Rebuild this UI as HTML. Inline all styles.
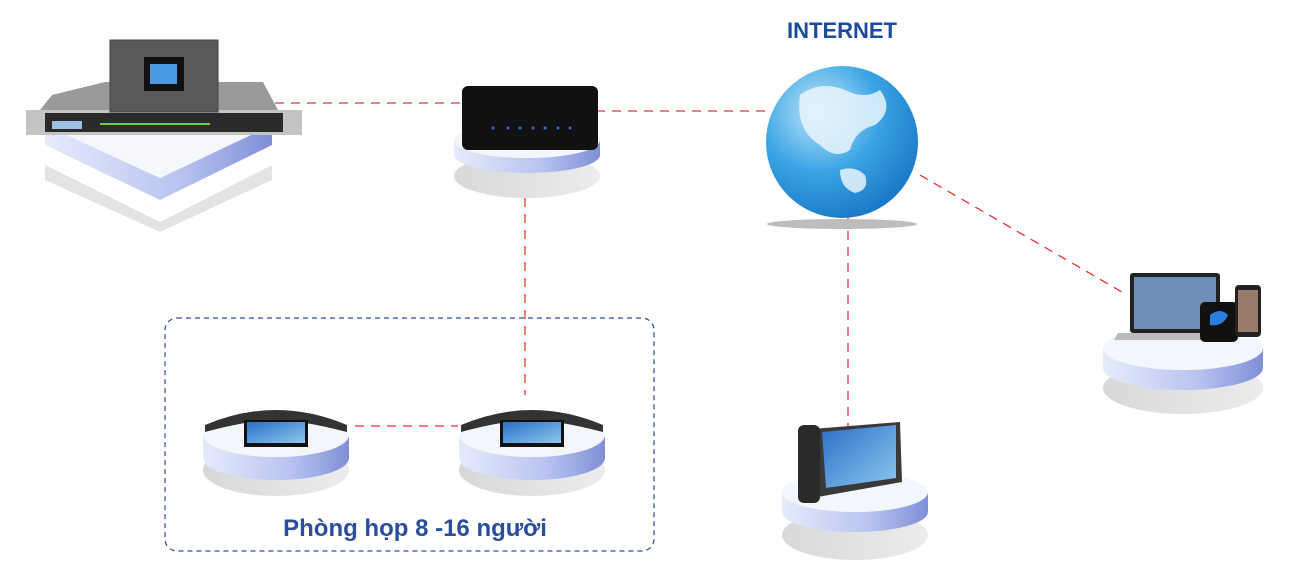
<!DOCTYPE html>
<html><head><meta charset="utf-8"><style>
html,body{margin:0;padding:0;background:#fff;width:1291px;height:575px;overflow:hidden}
svg{display:block}
</style></head><body>
<svg width="1291" height="575" viewBox="0 0 1291 575" xmlns="http://www.w3.org/2000/svg">
<defs>
<linearGradient id="band" x1="0" x2="1"><stop offset="0" stop-color="#e6ebfb"/><stop offset="0.6" stop-color="#b8c3f0"/><stop offset="1" stop-color="#7f8fd8"/></linearGradient>
<linearGradient id="shad" x1="0" x2="1"><stop offset="0" stop-color="#d8d8d8"/><stop offset="1" stop-color="#ececec"/></linearGradient>
<radialGradient id="globe" cx="0.35" cy="0.3" r="0.8"><stop offset="0" stop-color="#bfe6fb"/><stop offset="0.5" stop-color="#3aa4e4"/><stop offset="1" stop-color="#1571c2"/></radialGradient>
<linearGradient id="scr" x1="0" x2="1" y1="0" y2="1"><stop offset="0" stop-color="#2c6fc7"/><stop offset="1" stop-color="#8cc8ef"/></linearGradient>
</defs>

<g stroke="#e0343a" stroke-width="1.3" stroke-dasharray="9,7" fill="none">
<line x1="275" y1="103" x2="462" y2="103"/>
<line x1="596" y1="111" x2="768" y2="111"/>
<line x1="525" y1="198" x2="525" y2="395"/>
<line x1="355" y1="426" x2="458" y2="426"/>
<line x1="848" y1="215" x2="848" y2="430"/>
<line x1="920" y1="175" x2="1122" y2="292"/>
</g>
<rect x="165" y="318" width="489" height="233" rx="12" fill="none" stroke="#2c4e9a" stroke-width="1.2" stroke-dasharray="5,4"/>

<path d="M45 165 L160 222 L272 165 L272 180 L160 232 L45 180 Z" fill="#e3e3e3"/>
<path d="M45 125 L160 178 L272 125 L272 145 L160 200 L45 145 Z" fill="url(#band)"/>
<path d="M45 125 L160 178 L272 125 L160 90 Z" fill="#f5f7fd"/>
<path d="M52 95 L105 82 L263 82 L278 110 L40 110 Z" fill="#9a9a9a"/>
<rect x="26" y="110" width="276" height="25" fill="#c4c4c4"/>
<rect x="45" y="113" width="238" height="19" fill="#2a2a2a"/>
<rect x="52" y="121" width="30" height="8" fill="#9cc0e6"/>
<rect x="100" y="123" width="110" height="2" fill="#6ccf4a"/>
<rect x="110" y="40" width="108" height="72" fill="#5a5a5a" stroke="#444"/>
<rect x="144" y="57" width="40" height="34" fill="#111"/>
<rect x="150" y="64" width="27" height="20" fill="#4a9ae0"/>

<ellipse cx="527" cy="176" rx="73" ry="22" fill="url(#shad)"/>
<path d="M454 140 A73 18 0 0 0 600 140 L600 155 A73 18 0 0 1 454 155 Z" fill="url(#band)"/>
<ellipse cx="527" cy="140" rx="73" ry="18" fill="#f4f6fd"/>
<rect x="462" y="86" width="136" height="64" rx="6" fill="#111"/>
<g fill="#2d6fd0"><circle cx="493" cy="128" r="1.5"/><circle cx="508" cy="128" r="1.5"/><circle cx="520" cy="128" r="1.5"/><circle cx="533" cy="128" r="1.5"/><circle cx="545" cy="128" r="1.5"/><circle cx="558" cy="128" r="1.5"/><circle cx="570" cy="128" r="1.5"/></g>

<ellipse cx="842" cy="224" rx="75" ry="5" fill="#bdbdbd"/>
<circle cx="842" cy="142" r="76" fill="url(#globe)"/>
<path d="M800 95 q20-15 45-5 q20 10 35 0 q15 20-5 35 q-20 5-25 25 q-15 10-30-5 q-25-15-20-50 Z" fill="#e9f5fc" opacity="0.85"/>
<path d="M840 170 q15-5 25 5 q5 15-10 18 q-15-5-15-23 Z" fill="#e9f5fc" opacity="0.85"/>
<text x="842" y="38" text-anchor="middle" font-family="Liberation Sans, sans-serif" font-weight="bold" font-size="22" fill="#1b4a9e">INTERNET</text>

<g>
<ellipse cx="276" cy="470" rx="73" ry="26" fill="url(#shad)"/>
<path d="M203 435 A73 22 0 0 0 349 435 L349 458 A73 22 0 0 1 203 458 Z" fill="url(#band)"/>
<ellipse cx="276" cy="435" rx="73" ry="22" fill="#f4f6fd"/>
<path d="M205 425 Q276 395 347 425 L347 432 Q300 420 276 420 Q250 420 205 432 Z" fill="#333"/>
<rect x="244" y="420" width="64" height="27" fill="#111"/><rect x="247" y="422" width="58" height="21" fill="url(#scr)"/>
</g>
<g>
<ellipse cx="532" cy="470" rx="73" ry="26" fill="url(#shad)"/>
<path d="M459 435 A73 22 0 0 0 605 435 L605 458 A73 22 0 0 1 459 458 Z" fill="url(#band)"/>
<ellipse cx="532" cy="435" rx="73" ry="22" fill="#f4f6fd"/>
<path d="M461 425 Q532 395 603 425 L603 432 Q556 420 532 420 Q506 420 461 432 Z" fill="#333"/>
<rect x="500" y="420" width="64" height="27" fill="#111"/><rect x="503" y="422" width="58" height="21" fill="url(#scr)"/>
</g>
<text x="415" y="536" text-anchor="middle" font-family="Liberation Sans, sans-serif" font-weight="bold" font-size="24" fill="#2a4d9c">Phòng họp 8 -16 người</text>

<ellipse cx="855" cy="535" rx="73" ry="25" fill="url(#shad)"/>
<path d="M782 492 A73 20 0 0 0 928 492 L928 512 A73 20 0 0 1 782 512 Z" fill="url(#band)"/>
<ellipse cx="855" cy="492" rx="73" ry="20" fill="#f4f6fd"/>
<path d="M800 430 L900 422 L902 482 L812 498 Z" fill="#3a3a3a"/>
<path d="M822 432 L896 425 L896 478 L826 488 Z" fill="url(#scr)"/>
<rect x="798" y="425" width="22" height="78" rx="6" fill="#2a2a2a"/>

<ellipse cx="1183" cy="388" rx="80" ry="26" fill="url(#shad)"/>
<path d="M1103 348 A80 22 0 0 0 1263 348 L1263 368 A80 22 0 0 1 1103 368 Z" fill="url(#band)"/>
<ellipse cx="1183" cy="348" rx="80" ry="22" fill="#f4f6fd"/>
<rect x="1130" y="273" width="90" height="60" rx="3" fill="#222"/>
<rect x="1134" y="277" width="82" height="52" fill="#6d8fb8"/>
<path d="M1118 333 L1232 333 L1236 340 L1114 340 Z" fill="#bbb"/>
<rect x="1200" y="302" width="38" height="40" rx="5" fill="#111"/>
<path d="M1210 315 q10-8 18 0 q-5 12-18 10 Z" fill="#2b7de0"/>
<rect x="1235" y="285" width="26" height="52" rx="4" fill="#222"/><rect x="1238" y="290" width="20" height="42" fill="#9a7a6a"/>
</svg>
</body></html>
